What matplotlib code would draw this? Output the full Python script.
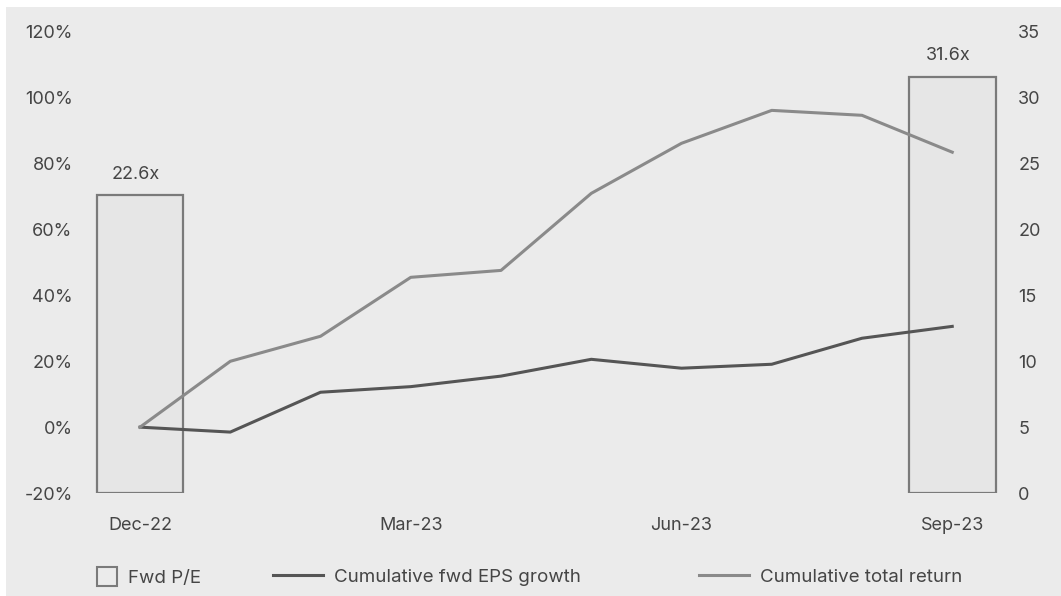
import matplotlib.pyplot as plt
from matplotlib.patches import Rectangle
from matplotlib.lines import Line2D

months = ['Dec-22', 'Jan-23', 'Feb-23', 'Mar-23', 'Apr-23', 'May-23',
          'Jun-23', 'Jul-23', 'Aug-23', 'Sep-23']
eps_growth = [0.0, -1.5, 10.6, 12.3, 15.5, 20.6, 17.9, 19.1, 27.0, 30.6]
total_return = [0.0, 20.0, 27.6, 45.5, 47.6, 71.0, 86.2, 96.2, 94.7, 83.5]
pe_idx = [0, 9]
pe_values = [22.6, 31.6]
pe_labels = ['22.6x', '31.6x']
tick_idx = [0, 3, 6, 9]

plt.rcParams['font.family'] = ['Inter', 'DejaVu Sans']
txt = '#454545'

fig = plt.figure(figsize=(10.61, 5.96), dpi=100)
fig.patch.set_facecolor('white')
# grey panel behind the chart
fig.patches.append(Rectangle((6 / 1061, 0), 1, (596 - 7) / 596,
                             transform=fig.transFigure, facecolor='#ebebeb',
                             edgecolor='none', zorder=-10))

ax = fig.add_axes([85 / 1061, 103 / 596, 925 / 1061, 461 / 596])
ax.patch.set_alpha(0)
ax2 = ax.twinx()
ax2.patch.set_alpha(0)

# bars (Fwd P/E) on the right axis
ax2.bar(pe_idx, pe_values, width=0.96, facecolor='#e6e6e6',
        edgecolor='#7a7a7a', linewidth=1.6, zorder=1)
for i, v, lab in zip(pe_idx, pe_values, pe_labels):
    ax2.annotate(lab, (i, v), xytext=(-3, 9), textcoords='offset points',
                 ha='center', va='bottom', fontsize=13, color=txt)
ax2.set_ylim(0, 35)
ax2.set_yticks(range(0, 36, 5))

# lines on the left axis, drawn above the bars
ax.set_zorder(ax2.get_zorder() + 1)
x = list(range(len(months)))
ax.plot(x, eps_growth, color='#555555', lw=2.2)
ax.plot(x, total_return, color='#8a8a8a', lw=2.2)
ax.set_ylim(-20, 120)
ax.set_yticks(range(-20, 121, 20))
ax.set_yticklabels([f'{v}%' for v in range(-20, 121, 20)])
ax.set_xlim(-0.61, 9.64)
ax.set_xticks(tick_idx)
ax.set_xticklabels([months[i] for i in tick_idx])

for a in (ax, ax2):
    for s in a.spines.values():
        s.set_visible(False)
    a.tick_params(length=0, labelsize=13, colors=txt)
ax.tick_params(axis='y', pad=9)
ax2.tick_params(axis='y', pad=6)
ax.tick_params(axis='x', pad=17)

# legend entries placed one by one
h_pe = Rectangle((0, 0), 1, 1, facecolor='none', edgecolor='#7a7a7a', lw=1.5)
h_eps = Line2D([], [], color='#555555', lw=2.2)
h_tr = Line2D([], [], color='#8a8a8a', lw=2.2)
for h, lab, xpos in [(h_pe, 'Fwd P/E', 89), (h_eps, 'Cumulative fwd EPS growth', 265),
                     (h_tr, 'Cumulative total return', 691)]:
    fig.legend([h], [lab], loc='center left', borderaxespad=0,
               bbox_to_anchor=(xpos / 1061, 1 - 577 / 596), frameon=False,
               fontsize=13.5, labelcolor=txt,
               handlelength=1.07 if h is h_pe else 2.67,
               handleheight=1.2 if h is h_pe else 0.7, handletextpad=0.6)

fig.savefig('out.png', dpi=100)
